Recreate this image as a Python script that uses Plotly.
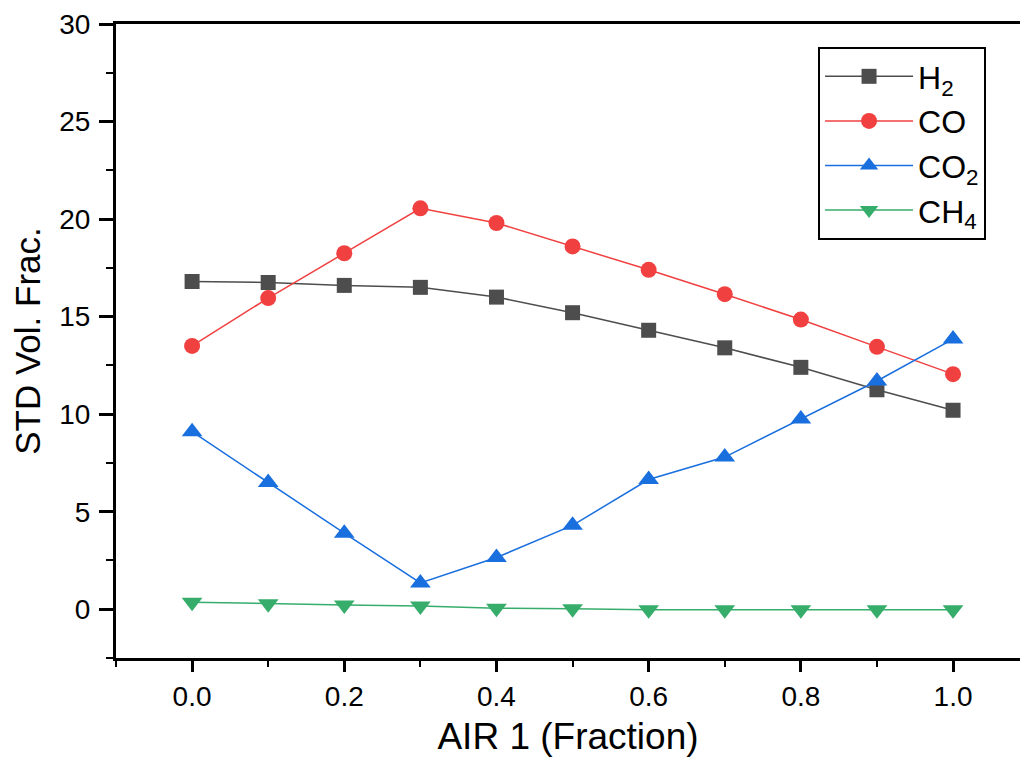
import plotly.graph_objects as go

x_vals = [0.0, 0.1, 0.2, 0.3, 0.4, 0.5, 0.6, 0.7, 0.8, 0.9, 1.0]
h2 = [16.8, 16.75, 16.6, 16.5, 16.0, 15.2, 14.3, 13.4, 12.4, 11.25, 10.2]
co = [13.5, 15.95, 18.25, 20.55, 19.8, 18.6, 17.4, 16.15, 14.85, 13.45, 12.05]
co2 = [9.1, 6.5, 3.9, 1.35, 2.65, 4.3, 6.65, 7.8, 9.75, 11.7, 13.85]
ch4 = [0.36, 0.28, 0.22, 0.16, 0.05, 0.02, -0.03, -0.03, -0.03, -0.03, -0.03]

names = ["H<sub>2</sub>", "CO", "CO<sub>2</sub>", "CH<sub>4</sub>"]
colors = ["#4d4d4d", "#f14040", "#1a6fdf", "#37ad6b"]
symbols = ["square", "circle", "triangle-up", "triangle-down"]
sizes = [15, 16, 18, 18]
series = [h2, co, co2, ch4]

FONT = "Liberation Sans, Arial, sans-serif"

fig = go.Figure()
for name, ys, c, s, sz in zip(names, series, colors, symbols, sizes):
    fig.add_trace(go.Scatter(
        x=x_vals, y=ys, name=name, mode="lines+markers",
        line=dict(color=c, width=1.5),
        marker=dict(symbol=s, size=sz, color=c, line=dict(width=0)),
    ))

fig.update_layout(
    width=1020, height=757,
    margin=dict(l=116, r=0, t=24, b=99),
    paper_bgcolor="white", plot_bgcolor="white",
    font=dict(family=FONT, color="black", size=28),
    showlegend=True,
    legend=dict(
        x=0.7766, y=0.9637, xanchor="left", yanchor="top",
        bgcolor="white", bordercolor="black", borderwidth=2,
        font=dict(family=FONT, size=32, color="black"),
        itemwidth=88, tracegroupgap=0,
    ),
)

fig.update_xaxes(
    range=[-0.1, 1.088], autorange=False,
    showgrid=False, zeroline=False,
    showline=True, linecolor="black", linewidth=3, mirror=True,
    ticks="outside", ticklen=11, tickwidth=3, tickcolor="black",
    tick0=0, dtick=0.2, tickformat=".1f",
    minor=dict(ticks="outside", ticklen=6, tickwidth=2, tickcolor="black", dtick=0.1, tick0=0),
    tickfont=dict(family=FONT, size=28),
    title=dict(text="AIR 1 (Fraction)", font=dict(family=FONT, size=37), standoff=14),
    automargin=False,
)
fig.update_yaxes(
    range=[-2.5, 30], autorange=False,
    showgrid=False, zeroline=False,
    showline=True, linecolor="black", linewidth=3,
    ticks="outside", ticklen=14, tickwidth=3, tickcolor="black",
    tick0=0, dtick=5,
    minor=dict(ticks="outside", ticklen=7, tickwidth=2, tickcolor="black", dtick=2.5, tick0=0),
    tickfont=dict(family=FONT, size=28),
    ticklabelstandoff=3,
    title=dict(text="STD Vol. Frac.", font=dict(family=FONT, size=35), standoff=8),
    automargin=False,
)

fig.write_html("out.html")
